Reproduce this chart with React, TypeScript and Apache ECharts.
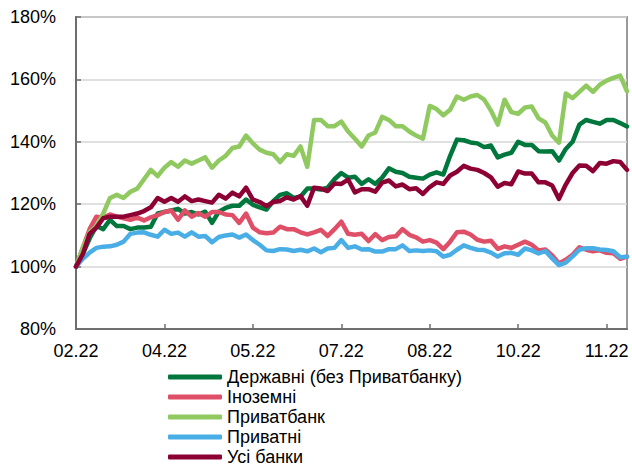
import React, { useEffect, useRef } from "react";
import * as echarts from "echarts";

const seriesNames = [
  "Державні (без Приватбанку)",
  "Іноземні",
  "Приватбанк",
  "Приватні",
  "Усі банки",
];
const seriesColors = ["#00773C", "#DF4F67", "#8FC95F", "#4AAEE6", "#8C0033"];

const derzhavni = [
  100, 104, 109, 113, 112, 115, 113, 113, 112, 112.5, 112.5, 112.8, 117, 117.5, 118, 118.5,
  117, 117.5, 116.7, 117.6, 114, 117.6, 118.8, 119.5, 119.5, 121.5, 119.8, 119, 118.3, 121,
  123, 123.5, 122, 122.4, 125, 125, 124.7, 125.3, 128, 130, 128.5, 128.8, 126.5, 128, 126.5,
  128.5, 131.5, 130.4, 130, 128.8, 128.5, 128.2, 129.5, 130.2, 129.5, 135.5, 140.7, 140.5,
  139.8, 139.5, 138.3, 138.8, 135, 135.9, 136.5, 140, 139, 139, 137, 136.9, 137, 134, 137.7,
  140, 145.5, 147, 146.4, 145.8, 147, 147, 146, 144.9,
];
const inozemni = [
  100, 106, 112, 116, 115.7, 116.7, 116, 115.5, 115, 115.7, 114.8, 115.8, 116.5, 117.5, 118,
  115, 118, 116, 117.2, 116, 117.5, 117.5, 116.7, 116.5, 114, 117, 112.5, 111, 110.7, 110.9,
  112.8, 112, 112, 111, 110.3, 111, 111.8, 109.8, 112, 114.4, 110.5, 110.2, 110.5, 108.2,
  110.4, 108.5, 109.5, 109.7, 112, 110.2, 109.4, 108, 108.5, 107.7, 105.6, 108, 111, 111.2,
  110.3, 108.6, 108, 108.3, 105.7, 106.5, 106, 107, 108, 107, 105.2, 105.5, 103.6, 101,
  102.2, 103.8, 106.2, 105.4, 104.9, 105.2, 104.4, 104.3, 102.5, 103.2,
];
const privatbank = [
  100, 106, 111, 113, 117, 122, 123, 122, 124, 125, 128, 131, 129, 131.7, 133.5, 132, 134,
  133, 134, 135, 131.7, 134, 135.5, 138, 138.5, 142, 139.5, 137.5, 136.5, 136, 133.5, 136,
  135.5, 138.5, 132, 147, 147, 145, 145, 146.5, 143.3, 141, 138.5, 142, 143, 148, 147, 145,
  145, 143.3, 142, 141, 151.5, 150.5, 148.5, 150.3, 154.5, 153.5, 154.5, 155, 153.5, 150,
  145.5, 153.5, 149.5, 149, 151, 151.3, 147.5, 146.2, 142, 139.7, 155.5, 154, 156, 158, 156,
  158.3, 159.6, 160.5, 161.2, 156.2,
];
const pryvatni = [
  100, 102.5, 104.5, 106, 106.4, 106.5, 107, 108, 110.5, 110.9, 111, 110.2, 109.6, 111.8,
  110.5, 110.9, 109.6, 111, 109.6, 109.8, 107.8, 109.5, 110, 110.3, 109.3, 110.3, 108.5, 107,
  105.2, 105, 105.6, 105.5, 105, 105.4, 104.9, 105.8, 104.6, 105.8, 106, 108.5, 106, 106.5,
  105.5, 105.6, 104.8, 104.8, 105.6, 105.6, 106.8, 105, 105.2, 105, 105.2, 104.9, 103.2,
  103.8, 105.4, 106.8, 106, 105.4, 105.3, 104.5, 103.2, 104.3, 104.4, 103.8, 105.8, 105.2,
  104.2, 105, 102.6, 100.5, 101.3, 103.3, 105.4, 105.9, 105.9, 105.5, 105.3, 104.9, 103,
  103.2,
];
const usiBanky = [
  100, 104, 110.5, 112.5, 115.5, 116, 116, 116, 116.5, 117, 117.8, 119, 122, 120.8, 122,
  120.8, 122.5, 121, 121.5, 121, 120.5, 123, 121.8, 123.7, 122.5, 125.3, 121.5, 120.7, 119.4,
  120.7, 121, 122.2, 121.5, 122.6, 119.5, 125.3, 125, 124.2, 126.6, 126.5, 127.9, 123.8,
  124.8, 124.8, 124, 126.9, 127.6, 125.7, 126.3, 124.8, 125.1, 123.3, 125.5, 127, 126.5,
  129.2, 130.4, 132.3, 131.4, 131, 130, 128.6, 125.6, 126.8, 126.4, 130.5, 129.8, 129.8, 127,
  127, 126, 121.7, 126.3, 130, 132.4, 132.3, 130.6, 133.2, 133, 133.8, 133.5, 131,
];

const seriesData = [derzhavni, inozemni, privatbank, pryvatni, usiBanky];

// Observation dates: every 3.5 days from 24.02.2022, shown as MM.YY
const startDate = Date.UTC(2022, 1, 24);
const stepDays = 3.5;
const categories = privatbank.map((_, i) => {
  const d = new Date(startDate + Math.round(i * stepDays) * 86400000);
  const mm = String(d.getUTCMonth() + 1).padStart(2, "0");
  const yy = String(d.getUTCFullYear() % 100).padStart(2, "0");
  return `${mm}.${yy}`;
});

const yMin = 80;
const yMax = 180;
const yStep = 20;
const labelEvery = 13;

const FONT = "'Liberation Sans', Arial, sans-serif";

export default function App() {
  const ref = useRef<HTMLDivElement>(null);

  useEffect(() => {
    if (!ref.current) return;
    const chart = echarts.init(ref.current, undefined, { renderer: "svg" });
    chart.setOption({
      animation: false,
      backgroundColor: "#ffffff",
      textStyle: { fontFamily: FONT },
      grid: {
        left: 76,
        right: 5,
        top: 17,
        bottom: 139,
        show: true,
        borderColor: "#9a9a9a",
        borderWidth: 2,
        containLabel: false,
      },
      legend: {
        orient: "vertical",
        left: 168,
        top: 368,
        height: 100,
        padding: 0,
        itemWidth: 54,
        itemHeight: 5,
        itemGap: 2,
        icon: "roundRect",
        data: seriesNames,
        textStyle: {
          fontFamily: FONT,
          fontSize: 18,
          lineHeight: 18,
          color: "#000",
        },
      },
      xAxis: {
        type: "category",
        data: categories,
        boundaryGap: false,
        axisLine: { lineStyle: { color: "#6e6e6e", width: 2 } },
        axisTick: {
          inside: true,
          length: 5,
          interval: labelEvery - 1,
          lineStyle: { color: "#6e6e6e", width: 1.5 },
        },
        axisLabel: {
          interval: labelEvery - 1,
          margin: 13,
          fontSize: 18,
          fontFamily: FONT,
          color: "#000",
        },
        splitLine: { show: false },
      },
      yAxis: {
        type: "value",
        min: yMin,
        max: yMax,
        interval: yStep,
        axisLine: { show: true, lineStyle: { color: "#6e6e6e", width: 2 } },
        axisTick: {
          show: true,
          inside: true,
          length: 5,
          lineStyle: { color: "#6e6e6e", width: 1.5 },
        },
        axisLabel: {
          formatter: "{value}%",
          margin: 20,
          fontSize: 18,
          fontFamily: FONT,
          color: "#000",
        },
        splitLine: { show: true, lineStyle: { color: "#d6d6d6", width: 1.5 } },
      },
      series: seriesNames.map((name, k) => ({
        name,
        type: "line",
        data: seriesData[k],
        showSymbol: false,
        symbol: "none",
        smooth: false,
        z: 2 + k,
        color: seriesColors[k],
        lineStyle: { width: 4.5, color: seriesColors[k], cap: "round", join: "round" },
      })),
    });
    return () => chart.dispose();
  }, []);

  return (
    <div
      ref={ref}
      style={{ position: "fixed", left: 0, top: 0, width: 632, height: 468 }}
    />
  );
}
